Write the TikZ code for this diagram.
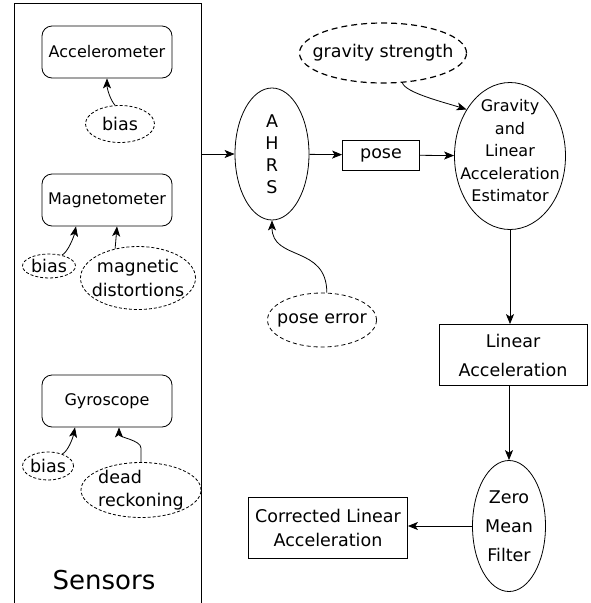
\documentclass[tikz,border=0pt]{standalone}
\usepackage{fontspec}
\setmainfont{DejaVu Sans}
\usepackage{tikz}
\usetikzlibrary{calc}
\usetikzlibrary{positioning}
\usetikzlibrary{shapes.geometric}
\usetikzlibrary{arrows.meta}

\tikzset{
    sensor/.style={draw, rounded corners=10pt, minimum width=130pt, minimum height=52pt, inner sep=0pt, font=\fontsize{16}{19}\selectfont},
    block/.style={draw, align=center, inner sep=0pt},
    blob/.style={draw, ellipse, inner sep=0pt},
    noise/.style={draw, ellipse, inner sep=0pt, dash pattern=on 3pt off 2pt},
    feed/.style={-{Stealth[length=10pt, width=8pt, inset=2.5pt]}},
    every label/.style={align=center, inner sep=0pt},
}

\begin{document}
\begin{tikzpicture}[x=1pt, y=-1pt, line width=0.8pt, font=\fontsize{17.5}{22}\selectfont]
            \useasboundingbox (0,0) rectangle (590,603);

            \draw[line width=1pt] (14,603) |- (201,3) -- (201,603);
            \coordinate (sensout) at (201,154);
            \draw (104,580) node[font=\fontsize{26}{30}\selectfont] (sensors) {Sensors};

            \draw (107,52) node[sensor] (acc) {Accelerometer};
            \draw (107,200) node[sensor] (mag) {Magnetometer};
            \draw (107,401) node[sensor] (gyro) {Gyroscope};

            \draw ($(acc) + (13,72)$) node[noise, minimum width=69pt, minimum height=37pt, label=center:bias] (bias1) {};
            \draw ($(mag) + (-58,66)$) node[noise, minimum width=53pt, minimum height=24pt, label=center:bias] (bias2) {};
            \draw ($(mag) + (31,78)$) node[noise, minimum width=115pt, minimum height=63pt,
                label={[font=\fontsize{17.5}{24}\selectfont]center:magnetic\\distortions}] (magdist) {};
            \draw ($(gyro) + (-59,65)$) node[noise, minimum width=51pt, minimum height=28pt, label=center:bias] (bias3) {};
            \draw ($(gyro) + (34,89)$) node[noise, minimum width=120pt, minimum height=55pt,
                label={[align=left, font=\fontsize{17.5}{23}\selectfont]center:dead\\reckoning}] (deadreck) {};

            \draw (272,154) node[blob, minimum width=74pt, minimum height=132pt, label=center:A\\H\\R\\S] (ahrs) {};
            \draw ($(ahrs) + (109,1)$) node[block, minimum width=77pt, minimum height=30pt] (pose) {pose};
            \draw ($(pose) + (129,1)$) node[blob, minimum width=111pt, minimum height=147pt,
                label={[font=\fontsize{16}{22.5}\selectfont, yshift=5pt]center:Gravity\\and\\Linear\\Acceleration\\Estimator}] (grav) {};
            \draw ($(grav) + (-127,-103)$) node[noise, line width=1.2pt, dash pattern=on 6pt off 4pt,
                minimum width=167pt, minimum height=60pt, label=center:gravity strength] (gravstr) {};
            \draw ($(ahrs) + (50,166)$) node[noise, dash pattern=on 4pt off 3pt,
                minimum width=109pt, minimum height=54pt, label=center:pose error] (perr) {};

            \draw ($(grav) + (3,199)$) node[block, minimum width=148pt, minimum height=61pt,
                font=\fontsize{17.5}{29}\selectfont] (linacc) {Linear\\Acceleration};
            \draw ($(linacc) + (-4,171)$) node[blob, minimum width=73pt, minimum height=131pt,
                label={[font=\fontsize{17.5}{29}\selectfont]center:Zero\\Mean\\Filter}] (zmf) {};
            \draw ($(zmf) + (-181,2)$) node[block, minimum width=159pt, minimum height=61pt,
                font=\fontsize{17.5}{24}\selectfont] (corr) {Corrected Linear\\Acceleration};

            \draw[feed] (sensout) -- (ahrs);
            \draw[feed] (ahrs) -- (pose);
            \draw[feed] (pose) -- (grav);
            \draw[feed] (grav.south) -- (grav.south |- linacc.north);
            \draw[feed] (linacc.south -| zmf.north) -- (zmf.north);
            \draw[feed] (zmf.west) -- (zmf.west -| corr.east);

            \begin{scope}[feed]
                \draw (bias1.105) .. controls +(-5,-6) and +(0,10) .. (acc.south);
                \draw (bias2.40) .. controls +(6,-3) and +(-2,10) .. ([xshift=-31pt]mag.south);
                \draw (magdist.128) -- ([xshift=10pt]mag.south);
                \draw (bias3.40) .. controls +(6,-3) and +(-2,10) .. ([xshift=-32pt]gyro.south);
                \draw (deadreck.north) -- ++(0,-14) .. controls +(0,-8) and +(0,10) .. ([xshift=12pt]gyro.south);
                \draw (gravstr.-57) .. controls +(3,10) and +(-22,-7) .. (grav.133);
                \draw (perr.80) .. controls +(0,-48) and +(0,41) .. (ahrs.south);
            \end{scope}
        \end{tikzpicture}
\end{document}
